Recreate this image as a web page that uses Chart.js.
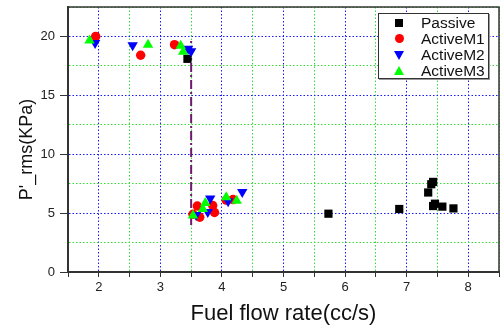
<!DOCTYPE html>
<html>
<head>
<meta charset="utf-8">
<script src="https://cdn.jsdelivr.net/npm/chart.js@4.4.1/dist/chart.umd.min.js"></script>
<style>
	html, body { margin: 0; padding: 0; background: #fff; }
	#wrap { position: relative; width: 500px; height: 326px; }
	#legend {
		position: absolute; left: 378px; top: 13px; width: 109px; height: 64px;
		border: 1px solid #333; background: #fff;
		box-shadow: 1px 1px 0 #999;
		font-family: "Liberation Sans", Arial, sans-serif; font-size: 15.5px; color: #111;
	}
	.row { position: absolute; left: 0; width: 109px; height: 16px; line-height: 16px; }
	.row span { position: absolute; left: 42px; top: 0; }
	.mark { position: absolute; }
	.sq { left: 16px; top: 4px; width: 8px; height: 8px; background: #000; }
	.ci { left: 16px; top: 3px; width: 9px; height: 9px; border-radius: 50%; background: #ff0000; }
	.dn { left: 15px; top: 4px; width: 0; height: 0; border-left: 5px solid transparent; border-right: 5px solid transparent; border-top: 9px solid #0000ff; }
	.up { left: 15px; top: 3px; width: 0; height: 0; border-left: 5px solid transparent; border-right: 5px solid transparent; border-bottom: 9px solid #00ff00; }
</style>
</head>
<body>
<div id="wrap">
	<canvas id="chart" width="500" height="326"></canvas>
	<div id="legend">
		<div class="row" style="top:1px"><div class="mark sq"></div><span>Passive</span></div>
		<div class="row" style="top:17px"><div class="mark ci"></div><span>ActiveM1</span></div>
		<div class="row" style="top:33px"><div class="mark dn"></div><span>ActiveM2</span></div>
		<div class="row" style="top:49px"><div class="mark up"></div><span>ActiveM3</span></div>
	</div>
</div>
<script>
// values
const passiveX = [3.44, 5.73, 6.88, 7.35, 7.40, 7.43, 7.43, 7.46, 7.58, 7.76];
const passiveY = [18.1, 4.95, 5.35, 6.75, 7.45, 7.65, 5.6, 5.8, 5.55, 5.4];

const m1X = [1.95, 2.68, 3.23, 3.53, 3.60, 3.64, 3.85, 3.88, 4.07, 4.18];
const m1Y = [20.0, 18.4, 19.3, 4.9, 5.6, 4.65, 5.65, 5.05, 6.1, 6.15];

const m2X = [1.94, 2.55, 3.45, 3.50, 3.58, 3.77, 3.81, 4.10, 4.33];
const m2Y = [19.45, 19.25, 18.95, 18.75, 4.85, 5.1, 6.25, 6.0, 6.8];

const m3X = [1.85, 2.80, 3.33, 3.37, 3.53, 3.69, 3.73, 4.07, 4.24];
const m3Y = [19.65, 19.3, 19.2, 18.7, 4.8, 5.35, 5.85, 6.35, 6.05];

// dash-dot marker line at 3.5 cc/s
const guideX = [3.5, 3.5];
const guideY = [4.0, 19.8];

const xTicks = [2, 3, 4, 5, 6, 7, 8];
const yTicks = [0, 5, 10, 15, 20];

function toPoints(xs, ys) {
	return xs.map((x, i) => ({ x: x, y: ys[i] }));
}

const frame = {
	id: 'frame',
	afterDraw(chart) {
		const a = chart.chartArea;
		const ctx = chart.ctx;
		ctx.save();
		ctx.strokeStyle = '#333';
		ctx.lineWidth = 1.5;
		ctx.beginPath();
		ctx.moveTo(a.left, a.top);
		ctx.lineTo(a.right, a.top);
		ctx.lineTo(a.right, a.bottom);
		ctx.stroke();
		ctx.restore();
	}
};

const font = "'Liberation Sans', Arial, sans-serif";

new Chart(document.getElementById('chart'), {
	type: 'scatter',
	data: {
		datasets: [
			{
				label: 'guide', type: 'line', data: toPoints(guideX, guideY),
				borderColor: '#6e1a6e', borderWidth: 2, borderDash: [9, 3, 2, 3],
				pointRadius: 0, showLine: true, fill: false, order: 5
			},
			{
				label: 'Passive', data: toPoints(passiveX, passiveY),
				pointStyle: 'rect', pointRadius: 5.8, backgroundColor: '#000', borderColor: '#000', borderWidth: 0, order: 3
			},
			{
				label: 'ActiveM1', data: toPoints(m1X, m1Y),
				pointStyle: 'circle', pointRadius: 4.7, backgroundColor: '#ff0000', borderColor: '#ff0000', borderWidth: 0, order: 2
			},
			{
				label: 'ActiveM2', data: toPoints(m2X, m2Y),
				pointStyle: 'triangle', pointRotation: 180, pointRadius: 6, backgroundColor: '#0000ff', borderColor: '#0000ff', borderWidth: 0, order: 1
			},
			{
				label: 'ActiveM3', data: toPoints(m3X, m3Y),
				pointStyle: 'triangle', pointRadius: 6, backgroundColor: '#00ff00', borderColor: '#00ff00', borderWidth: 0, order: 0
			}
		]
	},
	options: {
		responsive: false,
		animation: false,
		layout: { autoPadding: false, padding: { top: 7, right: 1, left: 0, bottom: 0 } },
		plugins: {
			legend: { display: false },
			tooltip: { enabled: false }
		},
		scales: {
			x: {
				type: 'linear', min: 1.5, max: 8.5,
				afterFit: (scale) => { scale.height = 54; scale.paddingLeft = 0; scale.paddingRight = 0; },
				ticks: {
					stepSize: 0.5, autoSkip: false, maxRotation: 0, padding: 3,
					color: '#222', font: { family: font, size: 13 },
					callback: (v) => xTicks.includes(v) ? String(v) : ''
				},
				grid: {
					color: (c) => Number.isInteger(c.tick.value) ? '#1a1aff' : '#33dd33',
					lineWidth: 1, tickLength: 5, tickColor: '#333', tickBorderDash: []
				},
				border: { color: '#333', width: 2, dash: [1.5, 2] },
				title: {
					display: true, text: 'Fuel flow rate(cc/s)', color: '#111',
					font: { family: font, size: 22, lineHeight: 1 }, padding: { top: 0, bottom: 1 }
				}
			},
			y: {
				type: 'linear', min: 0, max: 22.5,
				afterFit: (scale) => { scale.width = 68; scale.paddingTop = 0; scale.paddingBottom = 0; },
				ticks: {
					stepSize: 2.5, autoSkip: false, padding: 5,
					color: '#222', font: { family: font, size: 13 },
					callback: (v) => yTicks.includes(v) ? String(v) : ''
				},
				grid: {
					color: (c) => c.tick.value % 5 === 0 ? '#1a1aff' : '#33dd33',
					lineWidth: 1, tickLength: 8,
					tickColor: (c) => c.tick.value % 5 === 0 ? '#333' : 'rgba(0,0,0,0)',
					tickBorderDash: []
				},
				border: { color: '#333', width: 2, dash: [1.5, 2] },
				title: {
					display: true, text: "P'_rms(KPa)    ", color: '#111',
					font: { family: font, size: 18, lineHeight: 1 }, padding: { top: 18, bottom: 0 }
				}
			}
		}
	},
	plugins: [frame]
});
</script>
</body>
</html>
